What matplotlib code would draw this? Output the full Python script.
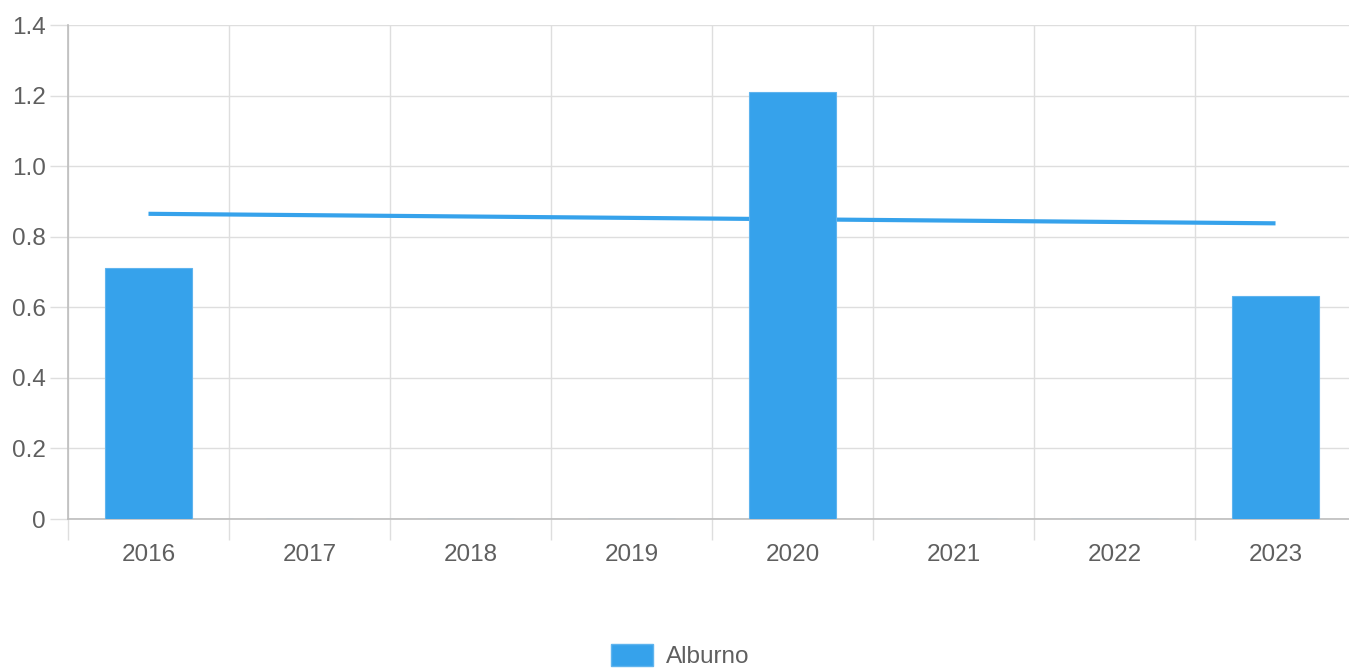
import matplotlib.pyplot as plt
import matplotlib.patches as mpatches
import numpy as np

plt.rcParams['font.family'] = ['Liberation Sans', 'DejaVu Sans']

# data
years = ['2016', '2017', '2018', '2019', '2020', '2021', '2022', '2023']
alburno = [0.71, 0, 0, 0, 1.21, 0, 0, 0.632]
trend_ends = [0.865, 0.838]   # trend line at first and last year

bar_color = '#36A2EB'
grid_color = '#dedede'
text_color = '#5f5f5f'

fig = plt.figure(figsize=(13.49, 6.71), dpi=100)
ax = fig.add_axes([0.0504, 0.2265, 0.9548, 0.7362])

x = np.arange(len(years))
ax.plot([x[0], x[-1]], trend_ends, color=bar_color, lw=3, zorder=2,
        solid_capstyle='butt')
ax.bar(x, alburno, width=0.54, color=bar_color, edgecolor='#5fb4ee',
       linewidth=0.8, zorder=3)

ax.set_xlim(-0.5, len(years) - 0.5)
ax.set_ylim(0, 1.4)

yt = np.arange(0, 1.41, 0.2)
ax.set_yticks(yt)
ax.set_yticklabels(['0'] + [f'{v:.1f}' for v in yt[1:]])
ax.set_xticks(x)
ax.set_xticklabels(years)
ax.set_xticks(np.arange(-0.5, len(years), 1), minor=True)

ax.tick_params(axis='y', length=13, width=1, color=grid_color, pad=3,
               labelsize=17.5, labelcolor=text_color)
ax.tick_params(axis='x', which='major', length=0, pad=18,
               labelsize=17.5, labelcolor=text_color)
ax.tick_params(axis='x', which='minor', length=15, width=1, color=grid_color)

ax.grid(axis='y', color=grid_color, lw=1, zorder=0)
ax.grid(axis='x', which='minor', color=grid_color, lw=1, zorder=0)
ax.set_axisbelow(True)

for side in ['top', 'right']:
    ax.spines[side].set_visible(False)
ax.spines['left'].set_color('#bdbdbd')
ax.spines['bottom'].set_color('#bdbdbd')
ax.spines['left'].set_linewidth(1.2)
ax.spines['bottom'].set_linewidth(1.2)

handle = mpatches.Patch(facecolor=bar_color, edgecolor='#5fb4ee', label='Alburno')
fig.legend(handles=[handle], loc='center', bbox_to_anchor=(680 / 1349, 1 - 656 / 671),
           frameon=False, fontsize=17.5, labelcolor=text_color,
           handlelength=1.75, handleheight=1.0, handletextpad=0.5)

plt.savefig('out.png', dpi=100)
